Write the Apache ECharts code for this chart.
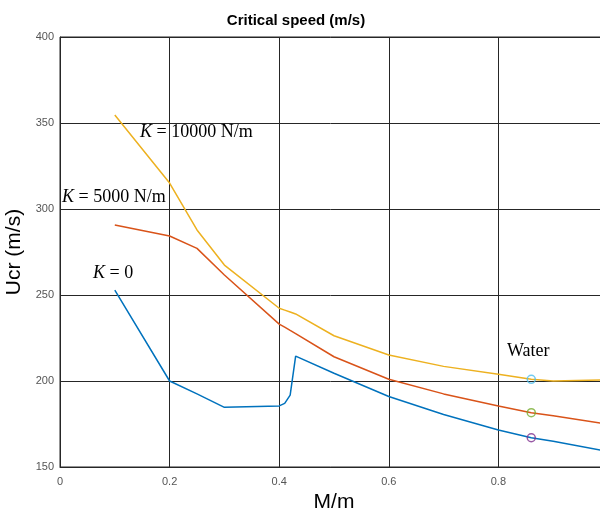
<!DOCTYPE html>
<html><head><meta charset="utf-8">
<script src="https://cdn.jsdelivr.net/npm/echarts@6/dist/echarts.min.js"></script>
<style>html,body{margin:0;padding:0;background:#fff}#c{width:600px;height:512px}</style>
</head><body><div id="c"></div>
<script>
const massRatio = [0.1, 0.2, 0.25, 0.3, 0.4, 0.41, 0.42, 0.43, 0.5, 0.6, 0.7, 0.8, 0.86, 0.9, 1.0];
const ucrK0     = [252.9, 200.0, 192.5, 184.7, 185.5, 187.0, 191.8, 214.5, 204.5, 191.0, 180.5, 171.5, 167.0, 165.0, 159.0];
const ucrK5000  = [290.7, 284.3, 277.1, 261.6, 233.1, 231.3, 229.4, 227.6, 214.1, 201.0, 192.5, 185.5, 181.6, 179.8, 174.9];
const ucrK10000 = [354.7, 315.1, 287.8, 267.4, 242.3, 241.2, 240.1, 239.0, 226.3, 215.1, 208.5, 203.9, 201.0, 200.0, 200.6];
const waterX = 0.86;
const waterPts = [201.0, 181.6, 167.0];
const xTicks = [0, 0.2, 0.4, 0.6, 0.8];
const yTicks = [150, 200, 250, 300, 350, 400];

const pair = (ys) => massRatio.map((x, i) => [x, ys[i]]);
const chart = echarts.init(document.getElementById('c'));
const serif = 'Liberation Serif';
const kRich = { i: { fontStyle: 'italic', fontFamily: serif, fontSize: 18, fill: '#000' } };
chart.setOption({
  animation: false,
  backgroundColor: '#fff',
  title: {
    text: 'Critical speed (m/s)', left: 291, top: 8, textAlign: 'center',
    textStyle: { fontFamily: 'Liberation Sans', fontSize: 15, fontWeight: 'bold', color: '#000' }
  },
  grid: { left: 60, top: 37, width: 548, height: 430, outerBoundsMode: 'none', containLabel: false,
          show: true, borderColor: '#262626', borderWidth: 1, backgroundColor: 'transparent' },
  xAxis: {
    type: 'value', min: 0, max: 1, interval: 0.2,
    name: 'M/m', nameLocation: 'middle', nameGap: 24,
    nameTextStyle: { fontFamily: 'Liberation Sans', fontSize: 21, color: '#000' },
    axisLine: { show: true, lineStyle: { color: '#262626' } },
    axisTick: { show: false },
    axisLabel: { fontFamily: 'Liberation Sans', fontSize: 11, color: '#555', margin: 9,
      formatter: v => xTicks.includes(Math.round(v*10)/10) ? String(Math.round(v*10)/10) : '' },
    splitLine: { show: true, lineStyle: { color: '#262626', width: 1 } }
  },
  yAxis: {
    type: 'value', min: 150, max: 400, interval: 50,
    name: 'Ucr (m/s)', nameLocation: 'middle', nameGap: 30,
    nameTextStyle: { fontFamily: 'Liberation Sans', fontSize: 21, color: '#000' },
    axisLine: { show: true, lineStyle: { color: '#262626' } },
    axisTick: { show: false },
    axisLabel: { fontFamily: 'Liberation Sans', fontSize: 11, color: '#555', margin: 6,
      formatter: v => yTicks.includes(v) ? String(v) : '' },
    splitLine: { show: true, lineStyle: { color: '#262626', width: 1 } }
  },
  series: [
    { type: 'line', data: pair(ucrK0), showSymbol: false, smooth: false, lineStyle: { color: '#0072BD', width: 1.5 }, z: 3 },
    { type: 'line', data: pair(ucrK5000), showSymbol: false, smooth: false, lineStyle: { color: '#D95319', width: 1.5 }, z: 3 },
    { type: 'line', data: pair(ucrK10000), showSymbol: false, smooth: false, lineStyle: { color: '#EDB120', width: 1.5 }, z: 3 },
    { type: 'scatter', symbol: 'circle', symbolSize: 8, z: 5,
      data: [
        { value: [waterX, waterPts[0]], itemStyle: { color: 'rgba(0,0,0,0)', borderColor: '#4DBEEE', borderWidth: 1.5 } },
        { value: [waterX, waterPts[1]], itemStyle: { color: 'rgba(0,0,0,0)', borderColor: '#77AC30', borderWidth: 1.5 } },
        { value: [waterX, waterPts[2]], itemStyle: { color: 'rgba(0,0,0,0)', borderColor: '#7E2F8E', borderWidth: 1.5 } }
      ] }
  ],
  graphic: [
    { type: 'text', left: 140, top: 123, z: 10, style: { text: '{i|K} = 10000 N/m', rich: kRich, font: '18px "Liberation Serif"', fill: '#000' } },
    { type: 'text', left: 62, top: 188, z: 10, style: { text: '{i|K} = 5000 N/m', rich: kRich, font: '18px "Liberation Serif"', fill: '#000' } },
    { type: 'text', left: 93, top: 264, z: 10, style: { text: '{i|K} = 0', rich: kRich, font: '18px "Liberation Serif"', fill: '#000' } },
    { type: 'text', left: 507, top: 342, z: 10, style: { text: 'Water', font: '18px "Liberation Serif"', fill: '#000' } }
  ]
});
</script></body></html>
